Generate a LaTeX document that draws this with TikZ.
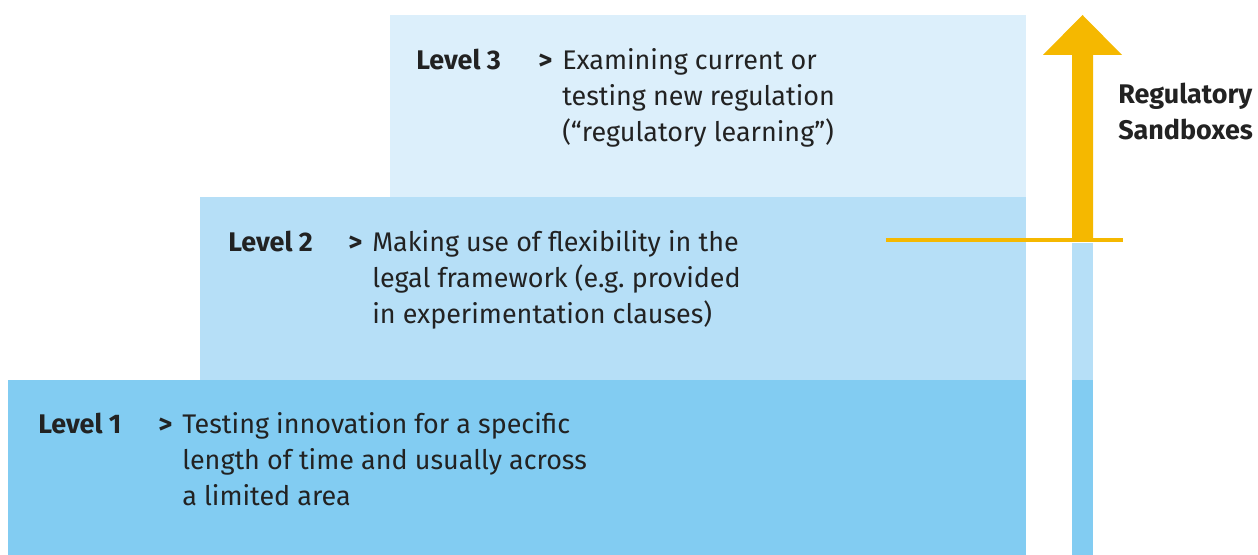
\documentclass[tikz,border=0pt]{standalone}
\usepackage{fontspec}
\setmainfont{Fira Sans}
\newcommand{\lines}[1]{\begin{tabular}[t]{@{}l@{}}#1\end{tabular}}
\begin{document}
\begin{tikzpicture}[x=0.75pt,y=-0.75pt,
  lvlthree/.style={fill=lvlC, draw=none},
  lvltwo/.style={fill=lvlB, draw=none},
  lvlone/.style={fill=lvlA, draw=none},
  head/.style={anchor=base west, inner sep=0pt, font=\fontsize{20.2}{27}\selectfont\bfseries, text=txt},
  gt/.style={anchor=base west, inner sep=0pt, font=\fontsize{20.2}{27}\selectfont\bfseries, text=txt},
  body/.style={anchor=base west, inner sep=0pt, font=\fontsize{20.2}{27}\selectfont, text=txt},
  side/.style={anchor=base west, inner sep=0pt, font=\fontsize{20.2}{27}\selectfont\bfseries, text=txt}
]
\definecolor{lvlA}{HTML}{82CCF2}
\definecolor{lvlB}{HTML}{B6DFF7}
\definecolor{lvlC}{HTML}{DCEFFB}
\definecolor{arrowc}{HTML}{F5B800}
\definecolor{txt}{HTML}{222222}
\useasboundingbox (0,0) rectangle (1258,555);
\fill[white] (0,0) rectangle (1258,555);

% stepped level blocks
\fill[lvlthree] (390,15) rectangle (1026,197);
\fill[lvltwo] (200,197) rectangle (1026,380);
\fill[lvlone] (8,380) rectangle (1026,555);

% side bar below the threshold line
\fill[lvltwo] (1072,243) rectangle (1093,380);
\fill[lvlone] (1072,380) rectangle (1093,555);

% upward arrow
\coordinate (tip) at (1082.5,15);
\fill[arrowc] (tip) -- (1122,55) -- (1093,55) -- (1093,238) -- (1072,238) -- (1072,55) -- (1043,55) -- cycle;
% threshold line
\coordinate (lineL) at (886,240);
\coordinate (lineR) at (1123,240);
\draw[arrowc, line width=3pt] (lineL) -- (lineR);

% texts
\node[head] (h3) at (416,70) {Level 3};
\node[gt] (g3) at (538,70) {>};
\node[body] (t3) at (562,70) {\lines{Examining current or\\testing new regulation\\(“regulatory learning”)}};

\node[head] (h2) at (228,252) {Level 2};
\node[gt] (g2) at (348,252) {>};
\node[body] (t2) at (372,252) {\lines{Making use of flexibility in the\\legal framework (e.g.\ provided\\in experimentation clauses)}};

\node[head] (h1) at (38,434) {Level 1};
\node[gt] (g1) at (158,434) {>};
\node[body] (t1) at (182,434) {\lines{Testing innovation for a specific\\length of time and usually across\\a limited area}};

\node[side] (rs) at (1118,104) {\lines{Regulatory\\Sandboxes}};
\end{tikzpicture}
\end{document}
